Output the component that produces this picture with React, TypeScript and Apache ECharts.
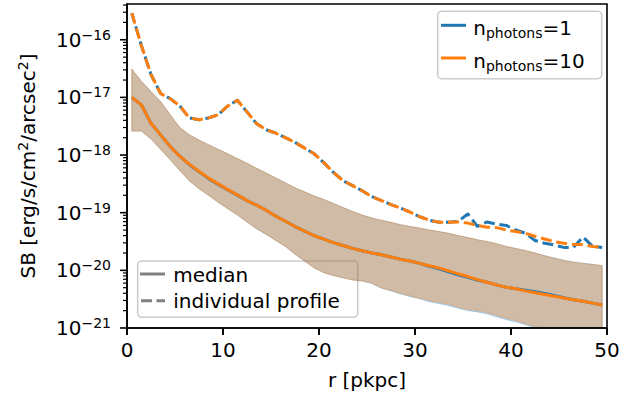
import React, { useEffect, useRef } from "react";
import * as echarts from "echarts";

const radius = [0.5, 1.5, 2.5, 3.5, 4.5, 5.5, 6.5, 7.5, 8.5, 9.5, 10.5, 11.5, 12.5, 13.5, 14.5, 15.5, 16.5, 17.5, 18.5, 19.5, 20.5, 21.5, 22.5, 23.5, 24.5, 25.5, 26.5, 27.5, 28.5, 29.5, 30.5, 31.5, 32.5, 33.5, 34.5, 35.5, 36.5, 37.5, 38.5, 39.5, 40.5, 41.5, 42.5, 43.5, 44.5, 45.5, 46.5, 47.5, 48.5, 49.5];

const medianOrange = [1.0e-17, 7.4e-18, 3.55e-18, 2.24e-18, 1.41e-18, 9.55e-19, 6.9e-19, 5.25e-19, 3.98e-19, 3.16e-19, 2.51e-19, 2.04e-19, 1.62e-19, 1.35e-19, 1.10e-19, 8.7e-20, 7.1e-20, 5.75e-20, 4.79e-20, 3.98e-20, 3.47e-20, 3.02e-20, 2.69e-20, 2.40e-20, 2.19e-20, 2.0e-20, 1.86e-20, 1.70e-20, 1.55e-20, 1.45e-20, 1.32e-20, 1.20e-20, 1.10e-20, 9.8e-21, 8.7e-21, 7.8e-21, 6.9e-21, 6.2e-21, 5.6e-21, 5.1e-21, 4.8e-21, 4.4e-21, 4.1e-21, 3.8e-21, 3.55e-21, 3.3e-21, 3.1e-21, 2.9e-21, 2.7e-21, 2.5e-21];
const medianBlue = [1.0e-17, 7.4e-18, 3.55e-18, 2.24e-18, 1.41e-18, 9.55e-19, 6.8e-19, 5.15e-19, 3.9e-19, 3.1e-19, 2.48e-19, 2.02e-19, 1.62e-19, 1.35e-19, 1.10e-19, 8.7e-20, 7.1e-20, 5.75e-20, 4.79e-20, 3.98e-20, 3.47e-20, 3.02e-20, 2.69e-20, 2.40e-20, 2.19e-20, 2.0e-20, 1.86e-20, 1.70e-20, 1.55e-20, 1.45e-20, 1.32e-20, 1.18e-20, 1.06e-20, 9.4e-21, 8.4e-21, 7.6e-21, 6.8e-21, 6.2e-21, 5.6e-21, 5.1e-21, 4.8e-21, 4.5e-21, 4.25e-21, 3.95e-21, 3.65e-21, 3.35e-21, 3.1e-21, 2.9e-21, 2.7e-21, 2.5e-21];

const upperOrange = [3.1e-17, 1.9e-17, 1.26e-17, 8.5e-18, 5.0e-18, 3.0e-18, 2.24e-18, 1.82e-18, 1.51e-18, 1.26e-18, 1.05e-18, 8.7e-19, 7.2e-19, 5.9e-19, 4.9e-19, 4.0e-19, 3.3e-19, 2.7e-19, 2.3e-19, 1.95e-19, 1.7e-19, 1.45e-19, 1.23e-19, 1.05e-19, 9.1e-20, 8.1e-20, 7.4e-20, 6.8e-20, 6.2e-20, 5.75e-20, 5.4e-20, 5.0e-20, 4.7e-20, 4.4e-20, 4.0e-20, 3.7e-20, 3.4e-20, 3.16e-20, 2.9e-20, 2.6e-20, 2.4e-20, 2.2e-20, 2.0e-20, 1.78e-20, 1.62e-20, 1.48e-20, 1.38e-20, 1.32e-20, 1.26e-20, 1.2e-20];
const lowerOrange = [2.6e-18, 2.6e-18, 1.9e-18, 1.26e-18, 8.3e-19, 5.4e-19, 3.55e-19, 2.6e-19, 2.0e-19, 1.51e-19, 1.17e-19, 9.1e-20, 6.9e-20, 5.25e-20, 4.2e-20, 3.3e-20, 2.6e-20, 1.9e-20, 1.45e-20, 1.1e-20, 9.1e-21, 8.1e-21, 7.4e-21, 6.8e-21, 6.6e-21, 6.0e-21, 5.0e-21, 4.5e-21, 4.0e-21, 3.6e-21, 3.3e-21, 3.0e-21, 2.8e-21, 2.6e-21, 2.3e-21, 2.1e-21, 2.0e-21, 1.86e-21, 1.66e-21, 1.48e-21, 1.35e-21, 1.2e-21, 1.07e-21, 9.5e-22, 8.7e-22, 7.9e-22, 7.2e-22, 6.6e-22, 6.0e-22, 5.5e-22];
const upperBlue = [3.1e-17, 1.9e-17, 1.26e-17, 8.5e-18, 5.0e-18, 3.0e-18, 2.24e-18, 1.82e-18, 1.51e-18, 1.26e-18, 1.05e-18, 8.7e-19, 7.2e-19, 5.9e-19, 4.9e-19, 4.0e-19, 3.3e-19, 2.7e-19, 2.3e-19, 1.95e-19, 1.7e-19, 1.45e-19, 1.23e-19, 1.05e-19, 9.1e-20, 8.1e-20, 7.4e-20, 6.8e-20, 6.2e-20, 5.75e-20, 5.4e-20, 5.0e-20, 4.7e-20, 4.4e-20, 4.0e-20, 3.7e-20, 3.4e-20, 3.16e-20, 2.9e-20, 2.6e-20, 2.4e-20, 2.2e-20, 2.0e-20, 1.8e-20, 1.64e-20, 1.5e-20, 1.4e-20, 1.33e-20, 1.27e-20, 1.21e-20];
const lowerBlue = [2.6e-18, 2.6e-18, 1.9e-18, 1.26e-18, 8.3e-19, 5.4e-19, 3.55e-19, 2.6e-19, 2.0e-19, 1.51e-19, 1.17e-19, 9.1e-20, 6.9e-20, 5.25e-20, 4.2e-20, 3.3e-20, 2.6e-20, 1.9e-20, 1.45e-20, 1.1e-20, 9.1e-21, 8.1e-21, 7.4e-21, 6.8e-21, 6.5e-21, 5.9e-21, 4.9e-21, 4.4e-21, 3.9e-21, 3.5e-21, 3.2e-21, 2.85e-21, 2.65e-21, 2.45e-21, 2.2e-21, 2.0e-21, 1.9e-21, 1.76e-21, 1.56e-21, 1.4e-21, 1.28e-21, 1.14e-21, 1.02e-21, 9.1e-22, 8.4e-22, 7.7e-22, 7.1e-22, 6.5e-22, 5.9e-22, 5.4e-22];

const profileOrange = [2.9e-16, 7.9e-17, 2.5e-17, 1.17e-17, 9.5e-18, 7.1e-18, 4.4e-18, 4.1e-18, 4.4e-18, 5.0e-18, 7.1e-18, 8.9e-18, 5.6e-18, 3.5e-18, 2.75e-18, 2.4e-18, 2.0e-18, 1.66e-18, 1.32e-18, 1.05e-18, 7.4e-19, 5.0e-19, 3.6e-19, 2.95e-19, 2.4e-19, 1.9e-19, 1.62e-19, 1.38e-19, 1.2e-19, 1.02e-19, 8.5e-20, 7.4e-20, 6.8e-20, 6.8e-20, 6.9e-20, 6.6e-20, 6.0e-20, 5.6e-20, 5.5e-20, 5.0e-20, 4.7e-20, 4.4e-20, 3.9e-20, 3.5e-20, 3.16e-20, 2.95e-20, 2.8e-20, 2.8e-20, 2.6e-20, 2.5e-20];
const profileBlue = [2.9e-16, 7.9e-17, 2.5e-17, 1.17e-17, 9.5e-18, 7.1e-18, 4.4e-18, 4.1e-18, 4.4e-18, 5.0e-18, 7.1e-18, 8.9e-18, 5.6e-18, 3.5e-18, 2.75e-18, 2.4e-18, 2.0e-18, 1.66e-18, 1.32e-18, 1.05e-18, 7.4e-19, 5.0e-19, 3.6e-19, 2.95e-19, 2.4e-19, 1.9e-19, 1.62e-19, 1.38e-19, 1.2e-19, 1.02e-19, 8.5e-20, 7.4e-20, 6.8e-20, 6.8e-20, 7.1e-20, 9.5e-20, 5.8e-20, 6.9e-20, 6.3e-20, 6.0e-20, 5.0e-20, 4.4e-20, 3.3e-20, 2.95e-20, 2.75e-20, 2.5e-20, 2.5e-20, 3.8e-20, 2.6e-20, 2.5e-20];

const xTicks = [0, 10, 20, 30, 40, 50];
const yMajorTicks = [1e-21, 1e-20, 1e-19, 1e-18, 1e-17, 1e-16];
const minorMantissas = [2, 3, 4, 5, 6, 7, 8, 9];
const yMin = 0.999e-21;
const yMax = 4.17e-16;

const BLUE = "#1f77b4";
const ORANGE = "#ff7f0e";
const FONT = "DejaVu Sans";

const GRID = { left: 127, top: 4, right: 28, bottom: 71 };
const W = 635;
const H = 399;

function bandSeries(lower: number[], upper: number[], fill: string) {
  return {
    type: "custom",
    clip: true,
    silent: true,
    z: 1,
    data: radius.map((r, i) => [r, lower[i], upper[i]]),
    encode: { x: 0, y: [1, 2] },
    renderItem: (params: any, api: any) => {
      if (params.dataIndex !== 0) return null;
      const pts: number[][] = [];
      for (let i = 0; i < radius.length; i++) pts.push(api.coord([radius[i], upper[i]]));
      for (let i = radius.length - 1; i >= 0; i--) pts.push(api.coord([radius[i], lower[i]]));
      return {
        type: "polygon",
        shape: { points: pts },
        style: { fill, stroke: fill, lineWidth: 1 },
      };
    },
  };
}

function lineSeries(values: number[], color: string, dashed: boolean, z: number, dashOffset = 0) {
  return {
    type: "line",
    data: radius.map((r, i) => [r, values[i]]),
    showSymbol: false,
    silent: true,
    z,
    lineStyle: {
      color,
      width: 3,
      type: dashed ? [11, 4.8] : "solid",
      dashOffset,
      cap: "butt",
      join: "round",
    },
  };
}

export default function App() {
  const ref = useRef<HTMLDivElement>(null);
  useEffect(() => {
    if (!ref.current) return;
    const chart = echarts.init(ref.current, null, { renderer: "svg" });

    const minorTicks: number[] = [];
    yMajorTicks.forEach((d) =>
      minorMantissas.forEach((m) => {
        const v = m * d;
        if (v <= yMax) minorTicks.push(v);
      })
    );

    const supRich = {
      sup: { fontSize: 14, fontFamily: FONT, color: "#000", fill: "#000", padding: [0, 0, 10, 0] },
    };

    // tick mark geometry from the same log mapping the axis uses
    const plotH = H - GRID.top - GRID.bottom;
    const plotW = W - GRID.left - GRID.right;
    const yPix = (v: number) =>
      GRID.top + ((Math.log10(yMax) - Math.log10(v)) / (Math.log10(yMax) - Math.log10(yMin))) * plotH;
    const xPix = (v: number) =>
      GRID.left + ((v - xTicks[0]) / (xTicks[xTicks.length - 1] - xTicks[0])) * plotW;
    const axisX = GRID.left;
    const axisY = GRID.top + plotH;

    const tickEls: any[] = [];
    yMajorTicks.forEach((v) => {
      const y = yPix(v);
      tickEls.push({ type: "line", shape: { x1: axisX - 7, y1: y, x2: axisX, y2: y }, style: { stroke: "#000", lineWidth: 1.6 } });
    });
    minorTicks.forEach((v) => {
      const y = yPix(v);
      tickEls.push({ type: "line", shape: { x1: axisX - 4, y1: y, x2: axisX, y2: y }, style: { stroke: "#000", lineWidth: 1.2 } });
    });
    xTicks.forEach((v) => {
      const x = xPix(v);
      tickEls.push({ type: "line", shape: { x1: x, y1: axisY, x2: x, y2: axisY + 7 }, style: { stroke: "#000", lineWidth: 1.6 } });
    });

    const legendSub = { sub: { fontSize: 14, fontFamily: FONT, fill: "#000", padding: [11, 0, 0, 0] } };

    chart.setOption({
      animation: false,
      backgroundColor: "#fff",
      grid: {
        ...GRID,
        containLabel: false,
        outerBoundsMode: "none",
        show: true,
        borderColor: "#000",
        borderWidth: 1.6,
        backgroundColor: "transparent",
        z: 20,
      },
      xAxis: {
        type: "value",
        min: xTicks[0],
        max: xTicks[xTicks.length - 1],
        interval: 10,
        z: 20,
        name: "r [pkpc]",
        nameLocation: "middle",
        nameGap: 42,
        nameMoveOverlap: false,
        nameTextStyle: { fontSize: 20, fontFamily: FONT, color: "#000" },
        axisLine: { show: true, lineStyle: { color: "#000", width: 1.6 } },
        axisTick: { show: true, length: 7, lineStyle: { color: "#000", width: 1.6 } },
        axisLabel: { fontSize: 20, fontFamily: FONT, color: "#000", margin: 12, showMinLabel: true, showMaxLabel: true },
        splitLine: { show: false },
      },
      yAxis: {
        type: "log",
        logBase: 10,
        min: yMin,
        max: yMax,
        z: 20,
        axisLine: { show: true, lineStyle: { color: "#000", width: 1.6 } },
        axisTick: { show: false },
        minorTick: { show: false },
        splitLine: { show: false },
        axisLabel: {
          fontSize: 20,
          fontFamily: FONT,
          color: "#000",
          margin: 16,
          showMinLabel: true,
          hideOverlap: false,
          rich: supRich,
          formatter: (v: number) => {
            const e = Math.log10(v);
            const r = Math.round(e);
            if (Math.abs(e - r) > 1e-3) return "";
            return "10{sup|" + (r < 0 ? "\u2212" : "") + Math.abs(r) + "}";
          },
        },
      },
      series: [
        bandSeries(lowerBlue, upperBlue, "rgba(31,119,180,0.3)"),
        lineSeries(medianBlue, BLUE, false, 2),
        lineSeries(profileBlue, BLUE, true, 2, 2),
        bandSeries(lowerOrange, upperOrange, "rgba(255,127,14,0.3)"),
        lineSeries(medianOrange, ORANGE, false, 3),
        lineSeries(profileOrange, ORANGE, true, 3),
      ],
      graphic: [
        {
          type: "group",
          id: "ticks",
          z: 100,
          children: tickEls,
        },
        {
          type: "text",
          id: "ylabel",
          x: 28,
          y: 166,
          rotation: Math.PI / 2,
          z: 100,
          style: {
            text: "SB [erg/s/cm{sup|2}/arcsec{sup|2}]",
            fontSize: 20,
            fontFamily: FONT,
            fill: "#000",
            align: "center",
            verticalAlign: "middle",
            rich: supRich,
          },
        },
        {
          type: "group",
          id: "legends",
          z: 100,
          children: [
            {
              type: "rect",
              shape: { x: 437.7, y: 11.3, width: 164, height: 67.4, r: 4 },
              style: { fill: "rgba(255,255,255,0.8)", stroke: "#cccccc", lineWidth: 1.6 },
            },
            {
              type: "line",
              shape: { x1: 441, y1: 25.3, x2: 466, y2: 25.3 },
              style: { stroke: BLUE, lineWidth: 3 },
            },
            {
              type: "text",
              x: 473.3,
              y: 27.5,
              style: {
                text: "n{sub|photons}=1",
                fontSize: 20,
                fontFamily: FONT,
                fill: "#000",
                align: "left",
                verticalAlign: "middle",
                rich: legendSub,
              },
            },
            {
              type: "line",
              shape: { x1: 441, y1: 58, x2: 466, y2: 58 },
              style: { stroke: ORANGE, lineWidth: 3 },
            },
            {
              type: "text",
              x: 473.3,
              y: 60.5,
              style: {
                text: "n{sub|photons}=10",
                fontSize: 20,
                fontFamily: FONT,
                fill: "#000",
                align: "left",
                verticalAlign: "middle",
                rich: legendSub,
              },
            },
            {
              type: "rect",
              shape: { x: 137.7, y: 261, width: 220, height: 56.3, r: 4 },
              style: { fill: "rgba(255,255,255,0.8)", stroke: "#cccccc", lineWidth: 1.6 },
            },
            {
              type: "line",
              shape: { x1: 140, y1: 274, x2: 165, y2: 274 },
              style: { stroke: "#808080", lineWidth: 3 },
            },
            {
              type: "text",
              x: 173.3,
              y: 274.7,
              style: {
                text: "median",
                fontSize: 20,
                fontFamily: FONT,
                fill: "#000",
                align: "left",
                verticalAlign: "middle",
              },
            },
            {
              type: "line",
              shape: { x1: 141, y1: 300.7, x2: 165, y2: 300.7 },
              style: { stroke: "#808080", lineWidth: 3, lineDash: [11, 4.5] },
            },
            {
              type: "text",
              x: 173.3,
              y: 301.4,
              style: {
                text: "individual profile",
                fontSize: 20,
                fontFamily: FONT,
                fill: "#000",
                align: "left",
                verticalAlign: "middle",
              },
            },
          ],
        },
      ],
    });

    return () => chart.dispose();
  }, []);
  return (
    <div
      ref={ref}
      style={{ position: "absolute", left: 0, top: 0, width: 635, height: 399, background: "#fff" }}
    />
  );
}
